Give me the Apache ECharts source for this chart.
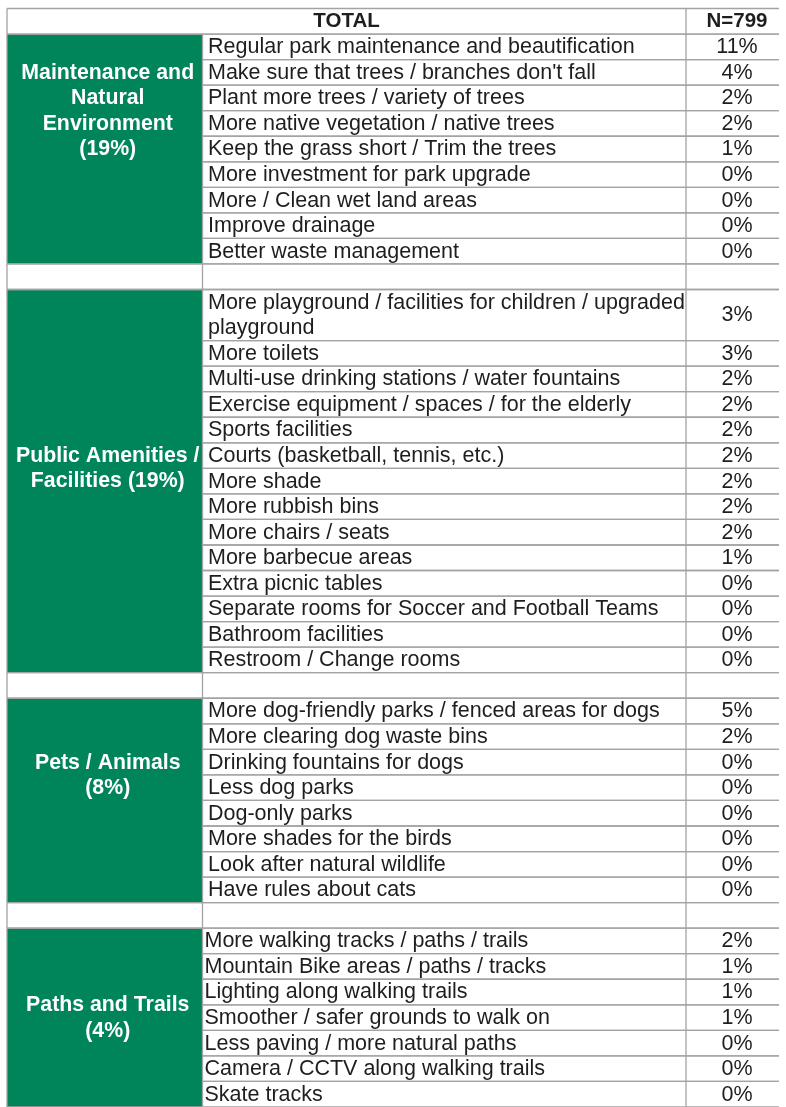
<!DOCTYPE html>
<html><head><meta charset="utf-8">
<script src="https://cdn.jsdelivr.net/npm/echarts@6/dist/echarts.min.js"></script>
<style>html,body{margin:0;padding:0;background:#fff}#c{width:786px;height:1107px}</style>
</head><body><div id="c"></div>
<script>
// ---------------- DATA ----------------
const headerLeft = 'TOTAL';
const headerRight = 'N=799';
const categories = [
  'Maintenance and\nNatural\nEnvironment\n(19%)',
  'Public Amenities /\nFacilities (19%)',
  'Pets / Animals\n(8%)',
  'Paths and Trails\n(4%)'
];
const maintenanceItems = [
  'Regular park maintenance and beautification',
  "Make sure that trees / branches don't fall",
  'Plant more trees / variety of trees',
  'More native vegetation / native trees',
  'Keep the grass short / Trim the trees',
  'More investment for park upgrade',
  'More / Clean wet land areas',
  'Improve drainage',
  'Better waste management'
];
const maintenanceValues = [11, 4, 2, 2, 1, 0, 0, 0, 0];
const amenitiesItems = [
  'More playground / facilities for children / upgraded\nplayground',
  'More toilets',
  'Multi-use drinking stations / water fountains',
  'Exercise equipment / spaces / for the elderly',
  'Sports facilities',
  'Courts (basketball, tennis, etc.)',
  'More shade',
  'More rubbish bins',
  'More chairs / seats',
  'More barbecue areas',
  'Extra picnic tables',
  'Separate rooms for Soccer and Football Teams',
  'Bathroom facilities',
  'Restroom / Change rooms'
];
const amenitiesValues = [3, 3, 2, 2, 2, 2, 2, 2, 2, 1, 0, 0, 0, 0];
const petsItems = [
  'More dog-friendly parks / fenced areas for dogs',
  'More clearing dog waste bins',
  'Drinking fountains for dogs',
  'Less dog parks',
  'Dog-only parks',
  'More shades for the birds',
  'Look after natural wildlife',
  'Have rules about cats'
];
const petsValues = [5, 2, 0, 0, 0, 0, 0, 0];
const pathsItems = [
  'More walking tracks / paths / trails',
  'Mountain Bike areas / paths / tracks',
  'Lighting along walking trails',
  'Smoother / safer grounds to walk on',
  'Less paving / more natural paths',
  'Camera / CCTV along walking trails',
  'Skate tracks'
];
const pathsValues = [2, 1, 1, 1, 0, 0, 0];

// ---------------- LAYOUT / STYLE ----------------
const ROW_H = 25.62;
const TOP = 8.5;
const COL_X = [7, 202.5, 686, 779];
const VALUE_CX = 737;
const ITEM_PAD = [5.5, 5.5, 5.5, 2];
const LABEL_CENTER_ROW = [4.0, 18.0, 30.0, 39.5];
const LABEL_DX = 3;
const GREEN = '#00855B';
const BORDER = '#A3A3A3';
const TEXT = '#1e1e1e';
const FONT = '"Liberation Sans", Arial, sans-serif';
const BODY_SIZE = 21.5;
const HEAD_SIZE = 20.5;
const CAT_SIZE = 21.3;

const sections = [
  [maintenanceItems, maintenanceValues],
  [amenitiesItems, amenitiesValues],
  [petsItems, petsValues],
  [pathsItems, pathsValues]
];

// build cells (row units, column indices)
const cells = [];
let r = 0;
cells.push({r0: 0, r1: 1, c0: 0, c1: 2, kind: 'header', text: headerLeft});
cells.push({r0: 0, r1: 1, c0: 2, c1: 3, kind: 'header', text: headerRight});
r = 1;
sections.forEach(([items, vals], s) => {
  const start = r;
  items.forEach((t, i) => {
    const n = t.split('\n').length;
    cells.push({r0: r, r1: r + n, c0: 1, c1: 2, kind: 'item', text: t, sec: s});
    cells.push({r0: r, r1: r + n, c0: 2, c1: 3, kind: 'value', text: vals[i] + '%'});
    r += n;
  });
  cells.push({r0: start, r1: r, c0: 0, c1: 1, kind: 'cat', text: categories[s], sec: s});
  if (s < sections.length - 1) {
    for (let c = 0; c < 3; c++) cells.push({r0: r, r1: r + 1, c0: c, c1: c + 1, kind: 'spacer', text: ''});
    r += 1;
  }
});
const TOTAL_ROWS = r;

const chart = echarts.init(document.getElementById('c'), null, {renderer: 'canvas'});
chart.setOption({
  animation: false,
  backgroundColor: '#ffffff',
  grid: {left: 0, top: TOP, width: 786, height: TOTAL_ROWS * ROW_H},
  xAxis: {type: 'value', min: 0, max: 786, show: false},
  yAxis: {type: 'value', min: 0, max: TOTAL_ROWS, inverse: true, show: false},
  series: [{
    type: 'custom',
    coordinateSystem: 'cartesian2d',
    encode: {x: [2, 3], y: [0, 1]},
    data: cells.map(c => [c.r0, c.r1, COL_X[c.c0], COL_X[c.c1]]),
    renderItem: function (params, api) {
      const c = cells[params.dataIndex];
      const p0 = api.coord([api.value(2), api.value(0)]);
      const p1 = api.coord([api.value(3), api.value(1)]);
      const x0 = p0[0], y0 = p0[1], x1 = p1[0], y1 = p1[1];
      const rowPx = api.size([0, 1])[1];
      const children = [];
      const fill = c.kind === 'cat' ? GREEN : '#ffffff';
      children.push({type: 'rect', shape: {x: x0, y: y0, width: x1 - x0, height: y1 - y0}, style: {fill: fill}, z2: 1});
      const ls = {stroke: BORDER, lineWidth: 1.3};
      children.push({type: 'line', shape: {x1: x0, y1: y0, x2: x1, y2: y0}, style: ls, z2: 5});
      children.push({type: 'line', shape: {x1: x0, y1: y1, x2: x1, y2: y1}, style: ls, z2: 5});
      children.push({type: 'line', shape: {x1: x0, y1: y0, x2: x0, y2: y1}, style: ls, z2: 5});
      if (c.kind === 'header') {
        const cx = c.c0 === 2 ? VALUE_CX : (x0 + x1) / 2;
        children.push({type: 'text', x: cx, y: (y0 + y1) / 2 + 0.5, z2: 10,
          style: {text: c.text, fill: TEXT, font: 'bold ' + HEAD_SIZE + 'px ' + FONT, textAlign: 'center', textVerticalAlign: 'middle'}});
      } else if (c.kind === 'item') {
        children.push({type: 'text', x: x0 + ITEM_PAD[c.sec], y: (y0 + y1) / 2 + 0.5, z2: 10,
          style: {text: c.text, fill: TEXT, font: BODY_SIZE + 'px ' + FONT, lineHeight: rowPx, textAlign: 'left', textVerticalAlign: 'middle'}});
      } else if (c.kind === 'value') {
        children.push({type: 'text', x: VALUE_CX, y: (y0 + y1) / 2 + 0.5, z2: 10,
          style: {text: c.text, fill: TEXT, font: BODY_SIZE + 'px ' + FONT, textAlign: 'center', textVerticalAlign: 'middle'}});
      } else if (c.kind === 'cat') {
        const cy = api.coord([0, LABEL_CENTER_ROW[c.sec]])[1];
        children.push({type: 'text', x: (x0 + x1) / 2 + LABEL_DX, y: cy + 0.5, z2: 10,
          style: {text: c.text, fill: '#ffffff', font: 'bold ' + CAT_SIZE + 'px ' + FONT, lineHeight: rowPx, textAlign: 'center', textVerticalAlign: 'middle'}});
      }
      return {type: 'group', children: children};
    }
  }]
});
</script>
</body></html>
